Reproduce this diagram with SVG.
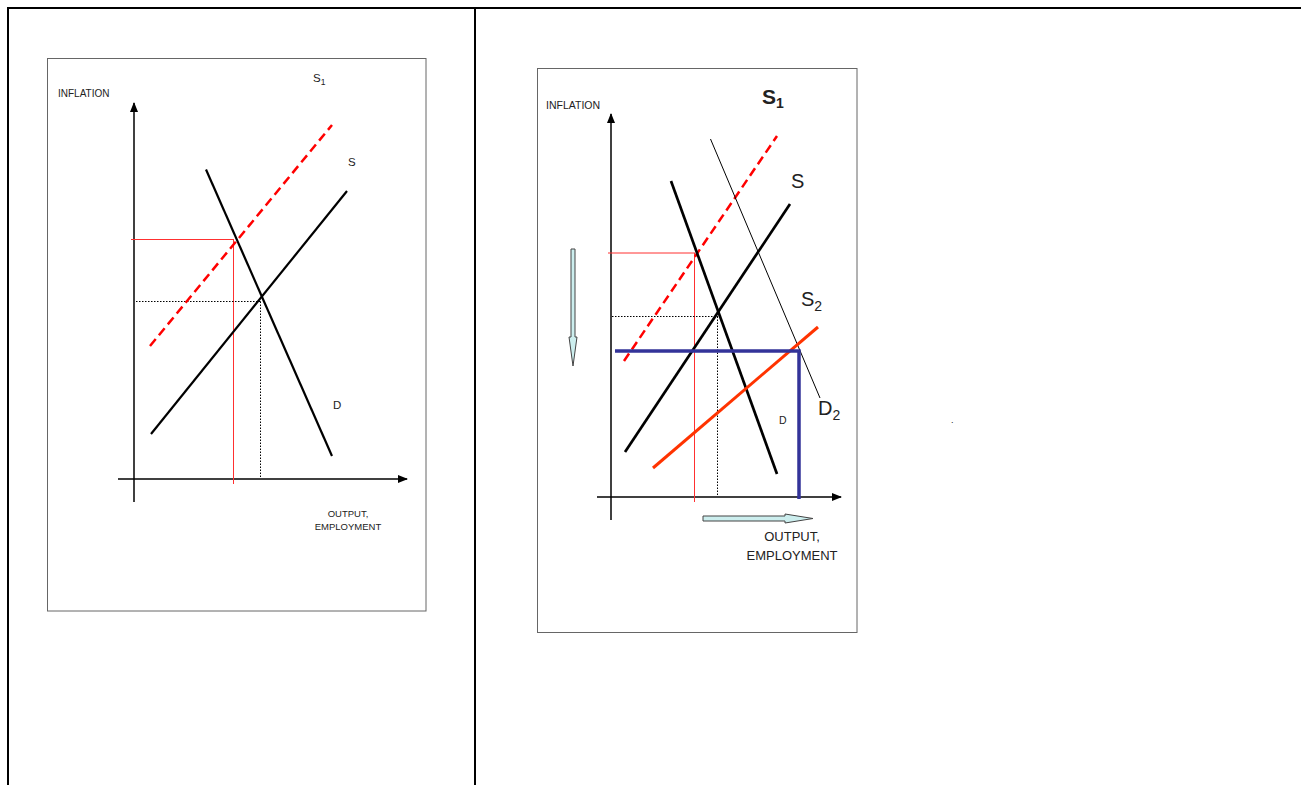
<svg xmlns="http://www.w3.org/2000/svg" width="1301" height="785" viewBox="0 0 1301 785">
<style>
text{font-family:"Liberation Sans",Arial,sans-serif;fill:#222}
.box{fill:#fff;stroke:#666;stroke-width:1}
.ax{stroke:#000;stroke-width:1.5;fill:none}
.dash{stroke:#ff0000;stroke-width:2.5;stroke-dasharray:9,5;fill:none}
.thin{stroke:#ff3030;stroke-width:1;fill:none}
.dot{stroke:#000;stroke-width:1;stroke-dasharray:1.5,1.5;fill:none}
.blk{stroke:#000;stroke-width:2.2;fill:none}
.blk2{stroke:#000;stroke-width:2.7;fill:none}
.blue{stroke:#333399;stroke-width:3.5;fill:none}
.org{stroke:#ff3300;stroke-width:3;fill:none}
.cy{fill:#cceeee;stroke:#444;stroke-width:1}
</style>
<defs>
<marker id="ah" markerWidth="10" markerHeight="8" refX="9" refY="4" orient="auto" markerUnits="userSpaceOnUse">
<path d="M0,0 L10,4 L0,8 Z" fill="#000"/>
</marker>
</defs>
<g id="table">
<line x1="7" y1="8" x2="1301" y2="8" stroke="#000" stroke-width="2"/>
<line x1="8" y1="7" x2="8" y2="785" stroke="#000" stroke-width="2"/>
<line x1="475" y1="7" x2="475" y2="785" stroke="#000" stroke-width="2"/>
</g>
<g id="left-panel">
<rect class="box" x="47.5" y="58.5" width="378.5" height="552.5"/>
<text x="58" y="97" font-size="10">INFLATION</text>
<text x="313" y="82" font-size="11.5">S<tspan font-size="8.5" dy="3">1</tspan></text>
<text x="348" y="166" font-size="11.5">S</text>
<text x="333" y="409" font-size="11.5">D</text>
<text x="348" y="517" font-size="9.5" text-anchor="middle">OUTPUT,</text>
<text x="348" y="530" font-size="9.5" text-anchor="middle">EMPLOYMENT</text>
<g id="left-connectors">
<line class="ax" x1="134" y1="502" x2="134" y2="103" marker-end="url(#ah)"/>
<line class="ax" x1="118" y1="479" x2="407" y2="479" marker-end="url(#ah)"/>
<line class="thin" x1="131" y1="239.5" x2="234" y2="239.5"/>
<line class="thin" x1="233.5" y1="239.5" x2="233.5" y2="484"/>
<line class="dot" x1="136" y1="301.5" x2="261" y2="301.5"/>
<line class="dot" x1="260.5" y1="301.5" x2="260.5" y2="478"/>
<line class="dash" x1="150" y1="346" x2="332" y2="125"/>
<line class="blk" x1="151" y1="434" x2="347" y2="191"/>
<line class="blk" x1="206" y1="169.5" x2="332" y2="456"/>
</g>
</g>
<g id="right-panel">
<rect class="box" x="537.5" y="68.5" width="319.5" height="564"/>
<text x="546" y="109" font-size="10.5">INFLATION</text>
<text x="762" y="104" font-size="21" font-weight="bold" fill="#000">S<tspan font-size="14" dy="4">1</tspan></text>
<text x="791" y="188" font-size="20">S</text>
<text x="801" y="306" font-size="20">S<tspan font-size="14" dy="5">2</tspan></text>
<text x="818" y="415" font-size="20">D<tspan font-size="14" dy="5">2</tspan></text>
<text x="779" y="424" font-size="10.5">D</text>
<text x="792" y="541" font-size="13" text-anchor="middle">OUTPUT,</text>
<text x="792" y="560" font-size="13" text-anchor="middle">EMPLOYMENT</text>
<text x="951" y="423" font-size="9" fill="#000">.</text>
<g id="right-connectors">
<line class="ax" x1="611" y1="520" x2="611" y2="114" marker-end="url(#ah)"/>
<line class="ax" x1="597" y1="497" x2="841" y2="497" marker-end="url(#ah)"/>
<line class="thin" x1="608" y1="253" x2="695" y2="253"/>
<line class="thin" x1="694.5" y1="253" x2="694.5" y2="502"/>
<line class="dot" x1="612" y1="316.5" x2="718" y2="316.5"/>
<line class="dot" x1="717.5" y1="316.5" x2="717.5" y2="496"/>
<line class="dash" x1="624" y1="361" x2="777" y2="136"/>
<line x1="710.5" y1="139" x2="820" y2="398" stroke="#000" stroke-width="1"/>
<line class="blk2" x1="671" y1="181" x2="777" y2="474"/>
<line class="blk2" x1="625" y1="452" x2="790" y2="204"/>
<line class="org" x1="653" y1="468" x2="818" y2="327"/>
<polyline class="blue" points="615,351 799,351 799,499"/>
<path class="cy" d="M571,249 L575,249 L575,337 L577,337 L573,366 L569,337 L571,337 Z"/>
<path class="cy" d="M703,516 L785,516 L785,514 L813,518.5 L785,523 L785,521 L703,521 Z"/>
</g>
</g>
</svg>
